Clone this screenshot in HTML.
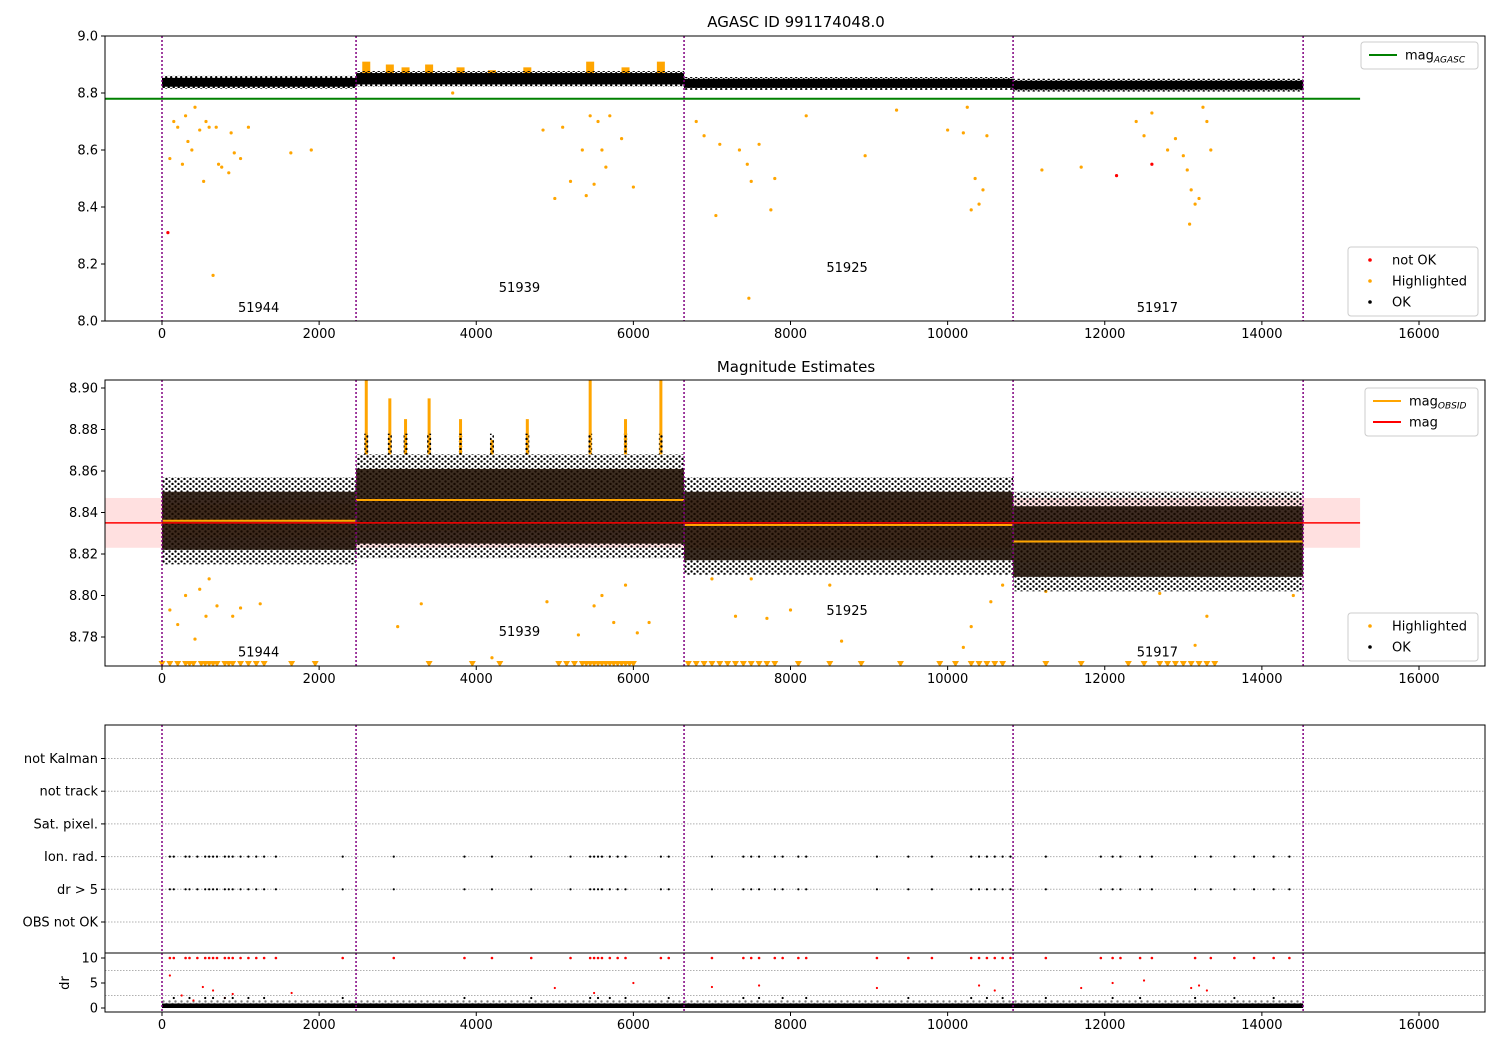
<!DOCTYPE html>
<html><head><meta charset="utf-8"><style>
body{margin:0;background:#fff;font-family:"Liberation Sans","DejaVu Sans",sans-serif}
svg text{font-family:"DejaVu Sans","Liberation Sans",sans-serif;font-size:13px;fill:#000}
</style></head><body>
<svg id="chart" width="1500" height="1050" xmlns="http://www.w3.org/2000/svg">
<defs>
<pattern id="dots" width="6" height="5" patternUnits="userSpaceOnUse"><circle cx="1.5" cy="1.5" r="1.2" fill="#000"/><circle cx="4.5" cy="4" r="1.2" fill="#000"/></pattern>
<pattern id="dots1" width="5" height="4" patternUnits="userSpaceOnUse"><circle cx="1.2" cy="1.2" r="1.2" fill="#000"/><circle cx="3.7" cy="3.2" r="1.2" fill="#000"/></pattern>
</defs>
</svg>
<script>
const obsidStarts=[0,2470,6645,10833,14525];
const obsidNames=['51944','51939','51925','51917'];
const xTicks=[0,2000,4000,6000,8000,10000,12000,14000,16000];
const y1Ticks=[8.0,8.2,8.4,8.6,8.8,9.0];
const y2Ticks=[8.78,8.80,8.82,8.84,8.86,8.88,8.90];
const drTicks=[0,5,10];
const flagRows=['OBS not OK','dr > 5','Ion. rad.','Sat. pixel.','not track','not Kalman'];
const agascMag=8.78;
const meanMag=8.835, meanStd=0.012;
const band1Low=[8.822,8.830,8.818,8.812];
const band1High=[8.853,8.870,8.849,8.843];
const band2Low=[8.815,8.818,8.810,8.802];
const band2High=[8.857,8.868,8.857,8.850];
const obsMean=[8.836,8.846,8.834,8.826];
const obsStd=[0.008,0.015,0.012,0.010];
const spikeX=[2600,2900,3100,3400,3800,4200,4650,5450,5900,6350];
const spikeMag=[8.91,8.90,8.89,8.90,8.89,8.88,8.89,8.91,8.89,8.91];
const hlX=[100,150,200,260,300,330,380,420,480,530,560,600,650,690,720,760,850,880,920,1000,1100,1640,1900,3700,4850,5000,5100,5200,5350,5400,5450,5500,5550,5600,5650,5700,5850,6000,6800,6900,7050,7100,7350,7450,7470,7500,7600,7750,7800,8200,8950,9350,10000,10200,10250,10300,10350,10400,10450,10500,11200,11700,12400,12500,12600,12800,12900,13000,13050,13080,13100,13150,13200,13250,13300,13350];
const hlMag=[8.57,8.70,8.68,8.55,8.72,8.63,8.60,8.75,8.67,8.49,8.70,8.68,8.16,8.68,8.55,8.54,8.52,8.66,8.59,8.57,8.68,8.59,8.60,8.80,8.67,8.43,8.68,8.49,8.60,8.44,8.72,8.48,8.70,8.60,8.54,8.72,8.64,8.47,8.70,8.65,8.37,8.62,8.60,8.55,8.08,8.49,8.62,8.39,8.50,8.72,8.58,8.74,8.67,8.66,8.75,8.39,8.50,8.41,8.46,8.65,8.53,8.54,8.70,8.65,8.73,8.60,8.64,8.58,8.53,8.34,8.46,8.41,8.43,8.75,8.70,8.60];
const badX=[75,12150,12600];
const badMag=[8.31,8.51,8.55];
const hl2X=[100,200,300,420,480,560,600,700,900,1000,1250,3000,3300,4200,4900,5300,5500,5600,5750,5900,6050,6200,7000,7300,7500,7700,8000,8500,8650,10200,10300,10550,10700,11250,12700,13150,13300,14400];
const hl2Mag=[8.793,8.786,8.800,8.779,8.803,8.790,8.808,8.795,8.790,8.794,8.796,8.785,8.796,8.770,8.797,8.781,8.795,8.800,8.787,8.805,8.782,8.787,8.808,8.790,8.808,8.789,8.793,8.805,8.778,8.775,8.785,8.797,8.805,8.802,8.801,8.776,8.790,8.800];
const triX=[0,100,200,300,350,400,500,550,600,650,700,800,850,900,1000,1100,1200,1300,1650,1950,3400,3950,4300,5050,5150,5250,5350,5400,5450,5500,5550,5600,5650,5700,5750,5800,5850,5900,5950,6000,6700,6800,6900,7000,7100,7200,7300,7400,7500,7600,7700,7800,8100,8500,8900,9400,9900,10100,10300,10400,10500,10600,10700,11250,11700,12300,12500,12700,12800,12900,13000,13100,13200,13300,13400];
const flagX=[100,150,300,350,450,550,600,650,700,800,850,900,1000,1100,1200,1300,1450,2300,2950,3850,4200,4700,5200,5450,5500,5550,5600,5700,5800,5900,6350,6450,7000,7400,7500,7600,7800,7900,8100,8200,9100,9500,9800,10300,10400,10500,10600,10700,10800,11250,11950,12100,12200,12450,12600,13150,13350,13650,13900,14150,14350];
const drScatX=[100,250,400,520,650,800,900,1650,5000,5500,6000,7000,7600,9100,10400,10600,11700,12100,12500,13100,13200,13300];
const drScatVal=[6.5,2.5,1.5,4.2,3.5,2,2.8,3,4,3,5,4.2,4.5,4,4.5,3.5,4,5,5.5,4,4.5,3.5];

const S=document.getElementById('chart');const NS='http://www.w3.org/2000/svg';
function el(t,a,p){const e=document.createElementNS(NS,t);for(const k in a)e.setAttribute(k,a[k]);(p||S).appendChild(e);return e;}
const X=v=>162+v*0.078563;
const Y1=m=>321-(m-8)*285;
const Y2=m=>637-(m-8.78)*2075;
const YD=v=>1008-v*5.0;
const XL=105,XR=1485;
function clip(id,y0,y1){const c=el('clipPath',{id:id});el('rect',{x:XL,y:y0,width:XR-XL,height:y1-y0},c);}
clip('c1',36,321);clip('c2',380,666);clip('c3',953,1012);
function frame(y0,y1,name){const r=el('rect',{x:XL,y:y0,width:XR-XL,height:y1-y0,fill:'none',stroke:'#000','stroke-width':1});}
function xAxis(yb,name){const g=el('g',{});
 xTicks.forEach(t=>{el('line',{x1:X(t),x2:X(t),y1:yb,y2:yb+4,stroke:'#000'},g);const tx=el('text',{x:X(t),y:yb+17,'text-anchor':'middle'},g);tx.textContent=t;});}
function yAxis(ticks,Y,fmt,name){const g=el('g',{});
 ticks.forEach(t=>{el('line',{x1:XL-4,x2:XL,y1:Y(t),y2:Y(t),stroke:'#000'},g);const tx=el('text',{x:XL-7,y:Y(t)+4.5,'text-anchor':'end'},g);tx.textContent=fmt(t);});}
function vlines(y0,y1){obsidStarts.forEach(s=>{const l=el('line',{x1:X(s),x2:X(s),y1:y0,y2:y1,stroke:'#800080','stroke-width':1.5,'stroke-dasharray':'2,2'});});}
function txt(x,y,s,name,extra){const t=el('text',Object.assign({x:x,y:y},extra||{}));t.textContent=s;return t;}
function dot(g,x,y,c,r){el('circle',{cx:x,cy:y,r:r||1.6,fill:c},g);}

// ---- Panel 1
txt(796,27,'AGASC ID 991174048.0','title-panel1',{'text-anchor':'middle'}).style.fontSize='15px';
const g1=el('g',{'clip-path':'url(#c1)'});
const ag=el('line',{x1:X(-725),x2:X(15250),y1:Y1(agascMag),y2:Y1(agascMag),stroke:'#008000','stroke-width':2},g1);
hlX.forEach((x,i)=>dot(g1,X(x),Y1(hlMag[i]),'orange'));
spikeX.forEach((x,i)=>{el('rect',{x:X(x)-4,y:Y1(spikeMag[i]),width:8,height:Y1(band1High[1])-Y1(spikeMag[i]),fill:'orange'},g1);});
for(let i=0;i<4;i++){const x0=X(obsidStarts[i]),w=X(obsidStarts[i+1])-x0;
 el('rect',{x:x0,y:Y1(band1High[i])-2,width:w,height:Y1(band1Low[i])-Y1(band1High[i])+4,fill:'url(#dots1)'},g1);
 const b=el('rect',{x:x0,y:Y1(band1High[i]),width:w,height:Y1(band1Low[i])-Y1(band1High[i]),fill:'#000'},g1);}
badX.forEach((x,i)=>dot(g1,X(x),Y1(badMag[i]),'red'));
vlines(36,321);frame(36,321,'panel1-axes');xAxis(321,'x-axis-panel1');yAxis(y1Ticks,Y1,t=>t.toFixed(1),'y-axis-panel1');
[[1230,8.05],[4550,8.12],[8720,8.19],[12670,8.05]].forEach((p,i)=>txt(X(p[0]),Y1(p[1])+5,obsidNames[i],'obsid-label',{'text-anchor':'middle'}));

// ---- Panel 2
txt(796,372,'Magnitude Estimates','title-panel2',{'text-anchor':'middle'}).style.fontSize='15px';
const g2=el('g',{'clip-path':'url(#c2)'});
const pb=el('rect',{x:X(-725),y:Y2(meanMag+meanStd),width:X(15250)-X(-725),height:Y2(meanMag-meanStd)-Y2(meanMag+meanStd),fill:'rgba(255,0,0,0.12)'},g2);
for(let i=0;i<4;i++){el('rect',{x:X(obsidStarts[i]),y:Y2(obsMean[i]+obsStd[i]),width:X(obsidStarts[i+1])-X(obsidStarts[i]),height:Y2(obsMean[i]-obsStd[i])-Y2(obsMean[i]+obsStd[i]),fill:'rgba(255,165,0,0.15)'},g2);}
hl2X.forEach((x,i)=>dot(g2,X(x),Y2(hl2Mag[i]),'orange'));
spikeX.forEach((x,i)=>{el('rect',{x:X(x)-1.5,y:Y2(spikeMag[i]-0.005),width:3,height:Y2(band2High[1])-Y2(spikeMag[i]-0.005),fill:'orange'},g2);el('rect',{x:X(x)-2,y:Y2(8.878),width:4,height:Y2(band2High[1])-Y2(8.878),fill:'url(#dots)'},g2);});
for(let i=0;i<4;i++){const x0=X(obsidStarts[i]),w=X(obsidStarts[i+1])-x0;
 el('rect',{x:x0,y:Y2(band2High[i]),width:w,height:Y2(band2Low[i])-Y2(band2High[i]),fill:'url(#dots)'},g2);
 const b=el('rect',{x:x0,y:Y2(band2High[i]-0.007),width:w,height:Y2(band2Low[i]+0.007)-Y2(band2High[i]-0.007),fill:'#1a0a00','fill-opacity':0.85},g2);}
triX.forEach(x=>{el('path',{d:`M${X(x)-3.5},${661} L${X(x)+3.5},${661} L${X(x)},${667} Z`,fill:'orange'},g2);});
const rl=el('line',{x1:X(-725),x2:X(15250),y1:Y2(meanMag),y2:Y2(meanMag),stroke:'red','stroke-width':1.5},g2);
for(let i=0;i<4;i++){const l=el('line',{x1:X(obsidStarts[i]),x2:X(obsidStarts[i+1]),y1:Y2(obsMean[i]),y2:Y2(obsMean[i]),stroke:'orange','stroke-width':2},g2);}
vlines(380,666);frame(380,666,'panel2-axes');xAxis(666,'x-axis-panel2');yAxis(y2Ticks,Y2,t=>t.toFixed(2),'y-axis-panel2');
[[1230,8.773],[4550,8.783],[8720,8.793],[12670,8.773]].forEach((p,i)=>txt(X(p[0]),Y2(p[1])+5,obsidNames[i],'obsid-label',{'text-anchor':'middle'}));

// ---- Panel 3 flags
const RY=i=>922-i*32.7;
const gf=el('g',{});
flagRows.forEach((r,i)=>{el('line',{x1:XL,x2:XR,y1:RY(i),y2:RY(i),stroke:'#b0b0b0','stroke-dasharray':'1.5,1.5'},gf);el('line',{x1:XL-4,x2:XL,y1:RY(i),y2:RY(i),stroke:'#000'},gf);const t=el('text',{x:XL-7,y:RY(i)+4.5,'text-anchor':'end'},gf);t.textContent=r;});
flagX.forEach(x=>{dot(gf,X(x),RY(1),'#000',1.1);dot(gf,X(x),RY(2),'#000',1.1);});
vlines(725,953);frame(725,953,'panel3-axes');
// dr panel
const g4=el('g',{'clip-path':'url(#c3)'});
[2.5,7.5].forEach(v=>el('line',{x1:XL,x2:XR,y1:YD(v),y2:YD(v),stroke:'#b0b0b0','stroke-dasharray':'1.5,1.5'},g4));
const db=el('rect',{x:X(0),y:YD(0.9),width:X(14525)-X(0),height:YD(0)-YD(0.9),fill:'#000'},g4);
el('rect',{x:X(0),y:YD(1.6),width:X(14525)-X(0),height:YD(0.9)-YD(1.6),fill:'url(#dots)','fill-opacity':0.5},g4);
drScatX.forEach((x,i)=>dot(g4,X(x),YD(drScatVal[i]),'red',1.1));
flagX.forEach(x=>dot(g4,X(x),YD(10),'red',1.3));
flagX.forEach((x,i)=>{if(i%2)dot(g4,X(x),YD(2),'#000',1.1);});
vlines(953,1012);frame(953,1012,'dr-axes');xAxis(1012,'x-axis-dr');yAxis(drTicks,YD,t=>t,'y-axis-dr');
txt(69,983,'dr','dr-axis-title',{'text-anchor':'middle',transform:'rotate(-90 69 983)'});

// legends
function legend(x,y,w,items,name){const g=el('g',{});
 el('rect',{x:x,y:y,width:w,height:items.length*21+6,rx:3,fill:'#fff',stroke:'#ccc'},g);
 items.forEach((it,i)=>{const cy=y+13+i*21;const e=document.createElementNS(NS,'g');g.appendChild(e);
  if(it.t==='line')el('line',{x1:x+8,x2:x+36,y1:cy,y2:cy,stroke:it.c,'stroke-width':2},e);else el('circle',{cx:x+22,cy:cy,r:1.8,fill:it.c},e);
  const t=el('text',{x:x+44,y:cy+4.5},e);t.textContent=it.l;if(it.s){const s=el('tspan',{'font-size':'9','font-style':'italic',dy:3},t);s.textContent=it.s;}});}
legend(1361,42,117,[{t:'line',c:'#008000',l:'mag',s:'AGASC'}],'legend-agasc');
legend(1348,247,130,[{t:'dot',c:'red',l:'not OK'},{t:'dot',c:'orange',l:'Highlighted'},{t:'dot',c:'#000',l:'OK'}],'legend-panel1');
legend(1365,388,113,[{t:'line',c:'orange',l:'mag',s:'OBSID'},{t:'line',c:'red',l:'mag'}],'legend-mag-lines');
legend(1348,613,130,[{t:'dot',c:'orange',l:'Highlighted'},{t:'dot',c:'#000',l:'OK'}],'legend-panel2');
</script>
</body></html>
